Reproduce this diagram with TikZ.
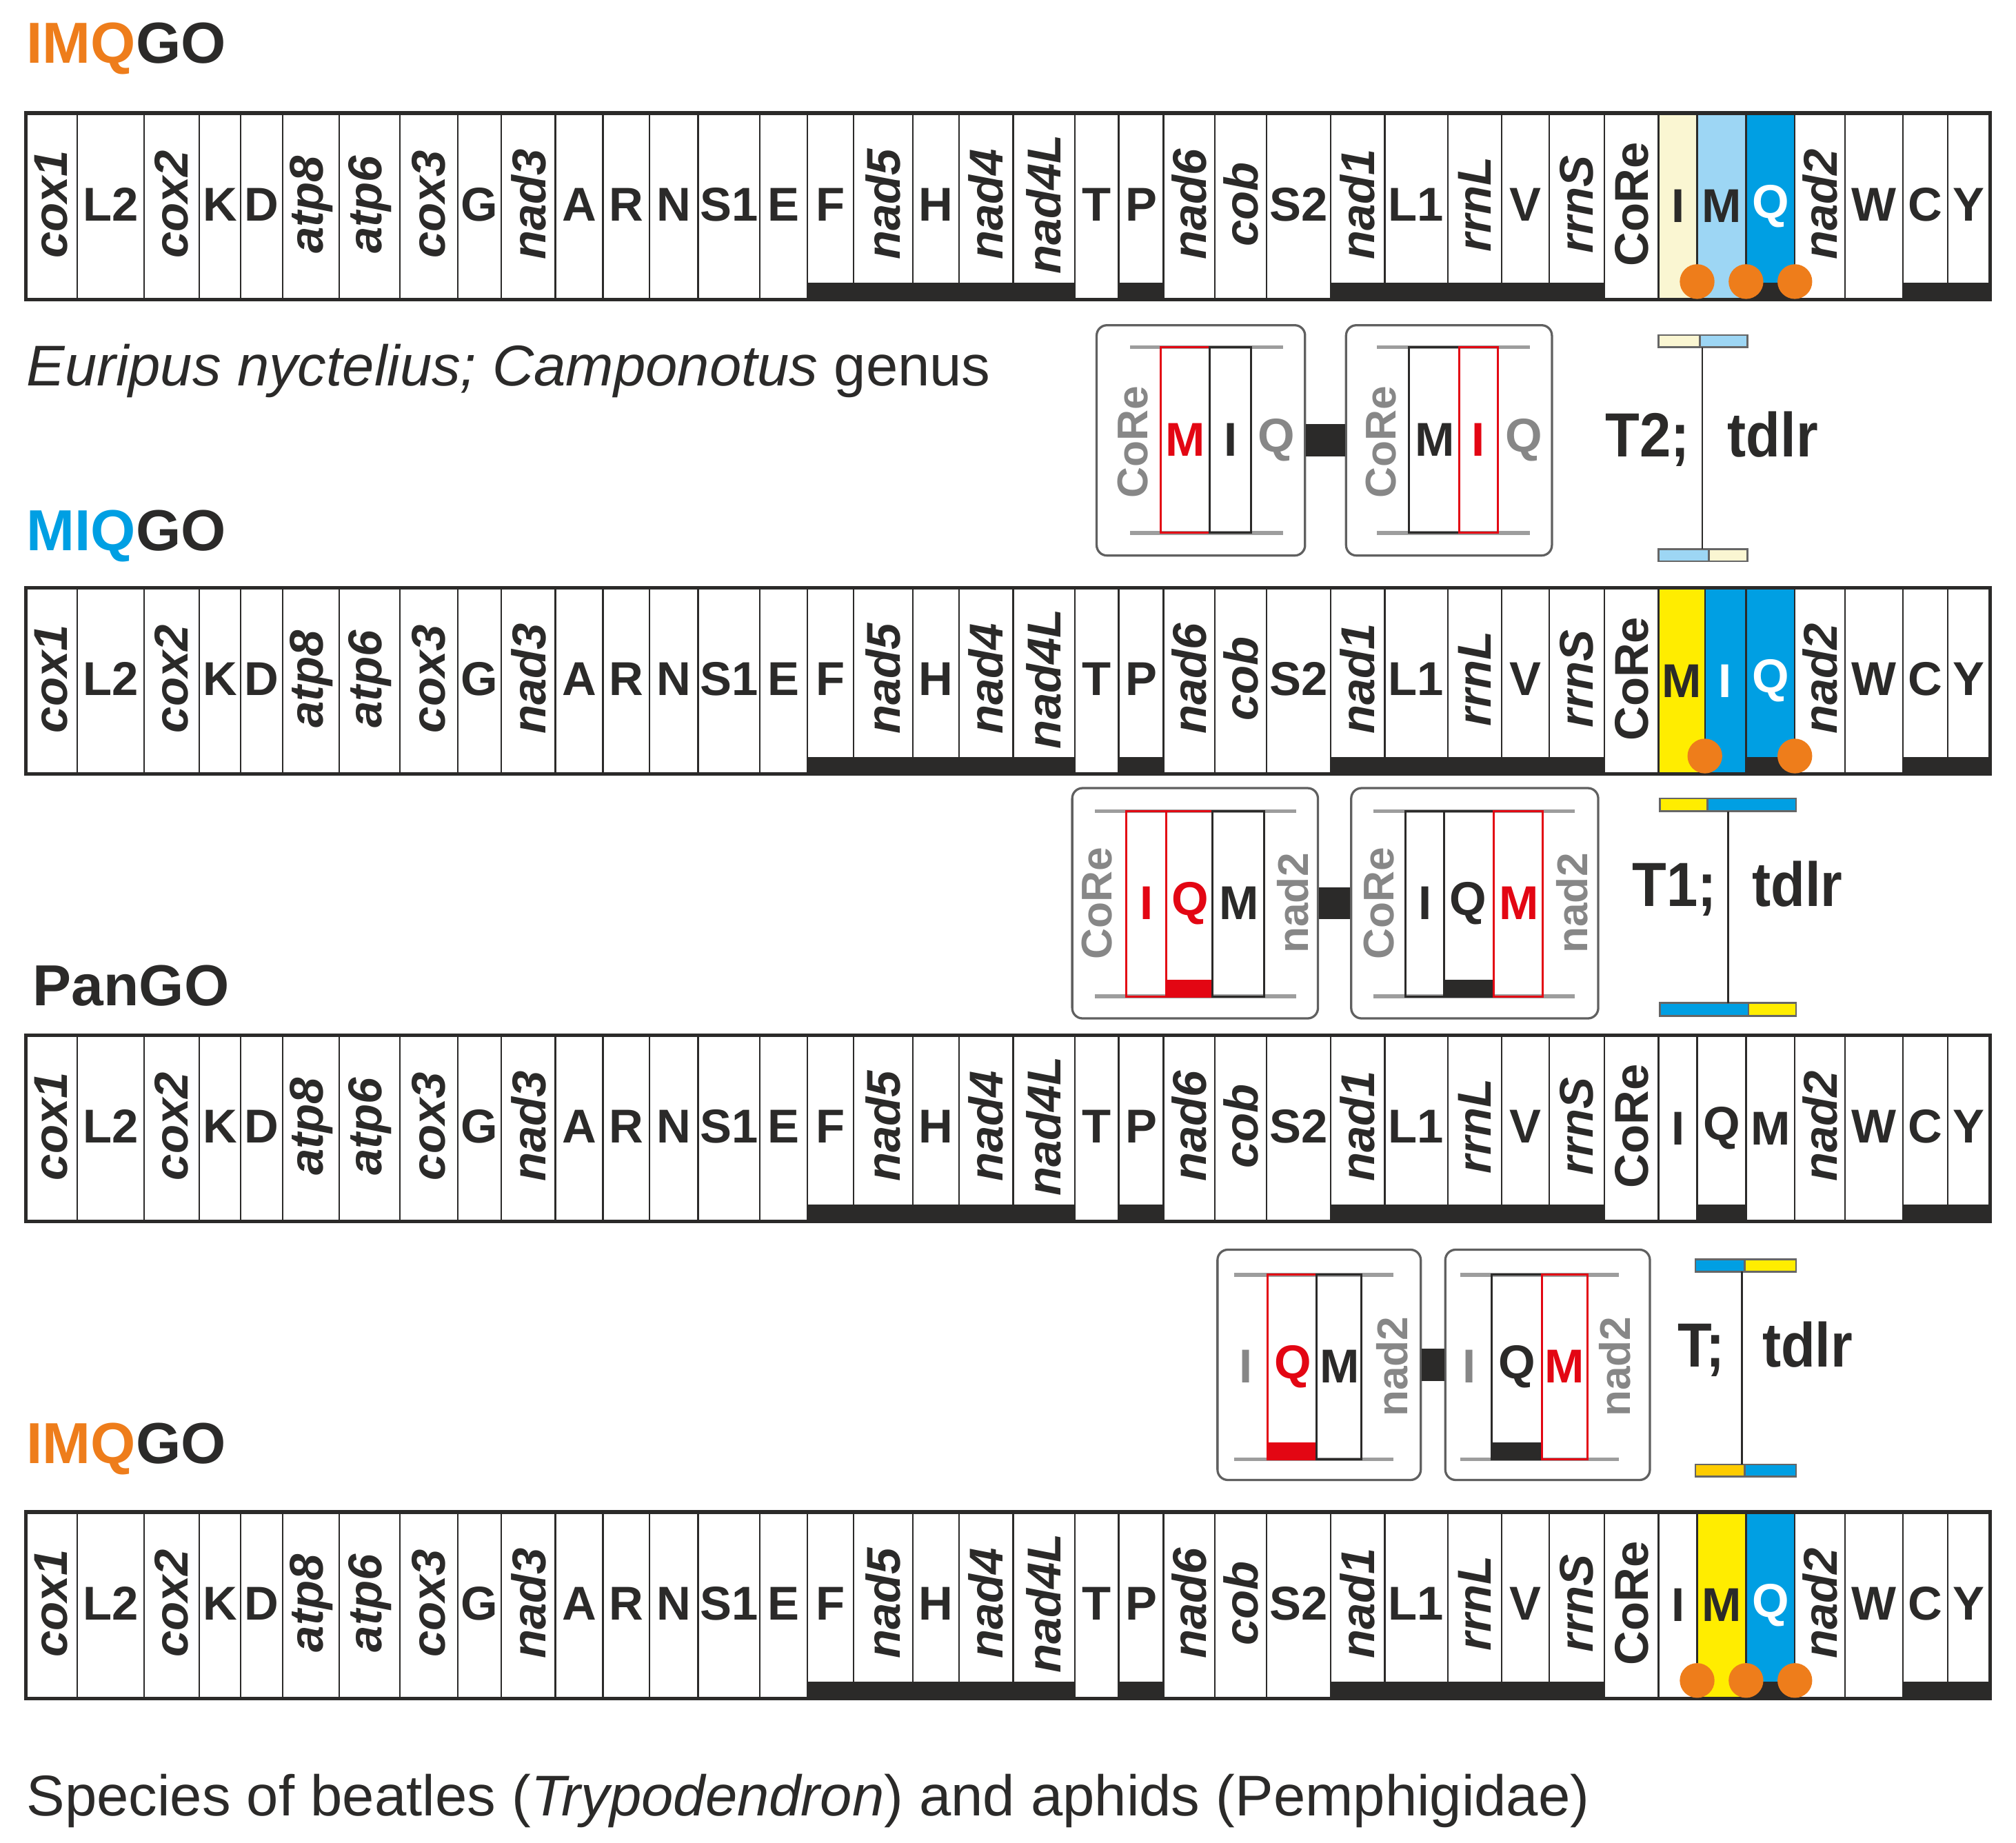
\documentclass[tikz,border=0pt]{standalone}
\usepackage{fontspec}
\setmainfont{Liberation Sans}
\newfontfamily\narrowsans{Liberation Sans}[FakeStretch=0.9]
\usetikzlibrary{positioning}

\definecolor{ink}{HTML}{2B2A29}
\definecolor{imqorange}{HTML}{EE7D1B}
\definecolor{miqblue}{HTML}{009FE3}
\definecolor{lightblue}{HTML}{9DD6F4}
\definecolor{cream}{HTML}{FAF6D2}
\definecolor{ylw}{HTML}{FFED00}
\definecolor{gold}{HTML}{FFCC00}
\definecolor{genered}{HTML}{E30613}
\definecolor{labelgray}{HTML}{878787}
\definecolor{linegray}{HTML}{9D9D9D}

\tikzset{
  cellline/.style={draw=ink, line width=0.35pt},
  rowframe/.style={draw=ink, line width=0.8pt},
  trna/.style={inner sep=0pt, text=ink, font=\fontsize{10.5}{12}\selectfont\bfseries},
  gene/.style={trna, rotate=90, font=\fontsize{10.5}{12}\selectfont\bfseries\itshape},
  core/.style={trna, rotate=90},
  orangedot/.style={circle, fill=imqorange, inner sep=0pt, minimum size=0.27cm},
  heading/.style={anchor=base west, inner sep=0pt, text=ink, font=\fontsize{12.8}{15}\selectfont\bfseries},
  species/.style={anchor=base west, inner sep=0pt, text=ink, font=\fontsize{12.7}{15}\selectfont},
  insetbox/.style={draw=gray!75!black, fill=white, rounded corners=0.08cm, line width=0.5pt, minimum height=1.79cm},
  link/.style={draw=ink, line width=0.25cm},
  strandline/.style={draw=linegray, line width=0.85pt},
  redrect/.style={draw=genered, line width=0.45pt},
  blackrect/.style={draw=ink, line width=0.45pt},
  small/.style={inner sep=0pt, font=\fontsize{10.5}{12}\selectfont\bfseries},
  graytag/.style={inner sep=0pt, rotate=90, text=labelgray, font=\fontsize{9.5}{11}\selectfont\bfseries},
  tlabel/.style={inner sep=0pt, text=ink, font=\narrowsans\fontsize{13.8}{16}\selectfont\bfseries},
  tbar/.style={draw=gray!80!black, line width=0.4pt},
  tstem/.style={draw=ink, line width=0.45pt},
}

% common cells of a gene order row: #1 top, #2 name
\newcommand{\generow}[2]{%
  \foreach \xa/\xb/\lab/\kind/\st in {20/60/cox1/gene/0, 60/112/L2/trna/0, 112/155/cox2/gene/0,
      155/187/K/trna/0, 187/220/D/trna/0, 220/264/atp8/gene/0, 264/311/atp6/gene/0,
      311/356/cox3/gene/0, 356/390/G/trna/0, 390/432/nad3/gene/0, 432/469/A/trna/0,
      469/505/R/trna/0, 505/543/N/trna/0, 543/591/S1/trna/0, 591/628/E/trna/0,
      628/664/F/trna/1, 664/710/nad5/gene/1, 710/746/H/trna/1, 746/788/nad4/gene/1,
      788/836/nad4L/gene/1, 836/870/T/trna/0, 870/905/P/trna/1, 905/945/nad6/gene/0,
      945/985/cob/gene/0, 985/1035/S2/trna/0, 1035/1077/nad1/gene/1, 1077/1126/L1/trna/1,
      1126/1168/rrnL/gene/1, 1168/1205/V/trna/1, 1205/1248/rrnS/gene/1, 1248/1290/CoRe/core/0,
      1396/1435/nad2/gene/0, 1435/1480/W/trna/0, 1480/1515/C/trna/1, 1515/1548/Y/trna/1}
  {
    \ifnum\st=1 \fill[ink] (\xa,#1+132) rectangle (\xb,#1+145); \fi
    \draw[cellline] (\xa,#1) -- (\xa,#1+145);
    \node[\kind] (#2-\lab) at ({(\xa+\xb)/2},#1+71) {\lab};
  }
  \draw[rowframe] (20,#1) rectangle (1548,#1+145);
}

\begin{document}
\begin{tikzpicture}[x=0.01cm, y=-0.01cm]
  \useasboundingbox (0,0) rectangle (1568,1433);

  % IMQGO, Euripus
  \node[heading] (head1) at (20,49) {\textcolor{imqorange}{IMQ}GO};
  \foreach \xa/\xb/\lab/\col/\tcol/\st in {1290/1320/I/cream/ink/0, 1320/1358/M/lightblue/ink/0, 1358/1396/Q/miqblue/white/1}
  {
    \fill[\col] (\xa,88) rectangle (\xb,233);
    \ifnum\st=1 \fill[ink] (\xa,220) rectangle (\xb,233); \fi
    \draw[cellline] (\xa,88) -- (\xa,233);
    \node[trna, text=\tcol] (r1-\lab) at ({(\xa+\xb)/2},160.5) {\lab};
  }
  \generow{88}{r1}
  \foreach \x in {1320,1358,1396} \node[orangedot] (r1-dot\x) at (\x,219) {};
  \node[species] (spec1) at (20,300) {\textit{Euripus nyctelius; Camponotus} genus};

  % T2 insets
  \node[insetbox, minimum width=1.62cm] (a1) at (934,342.5) {};
  \node[insetbox, minimum width=1.6cm] (a2) at (1127,342.5) {};
  \draw[link] (a1) -- (a2);
  \draw[strandline] (879,270) -- (998,270) (879,414.5) -- (998,414.5);
  \draw[redrect] (903,270) rectangle (941,414.5);
  \draw[blackrect] (941,270) rectangle (973,414.5);
  \node[graytag] (a1-core) at (881,344) {CoRe};
  \node[small, text=genered] (a1-M) at (922,342) {M};
  \node[small, text=ink] (a1-I) at (957,342) {I};
  \node[small, text=labelgray] (a1-Q) at (993,342) {Q};
  \draw[strandline] (1071,270) -- (1190,270) (1071,414.5) -- (1190,414.5);
  \draw[blackrect] (1096,270) rectangle (1135,414.5);
  \draw[redrect] (1135,270) rectangle (1165,414.5);
  \node[graytag] (a2-core) at (1074,344) {CoRe};
  \node[small, text=ink] (a2-M) at (1116,342) {M};
  \node[small, text=genered] (a2-I) at (1150,342) {I};
  \node[small, text=labelgray] (a2-Q) at (1185.5,342) {Q};

  \draw[tbar, fill=cream] (1290,260.6) rectangle (1322,270);
  \draw[tbar, fill=lightblue] (1322,260.6) rectangle (1359,270);
  \draw[tbar, fill=lightblue] (1290,427) rectangle (1329,436.5);
  \draw[tbar, fill=cream] (1329,427) rectangle (1359,436.5);
  \coordinate (t2top) at (1324,270);
  \coordinate (t2bot) at (1324,427);
  \draw[tstem] (t2top) -- (t2bot);
  \node[tlabel, anchor=base east] (t2name) at (1315,355) {T2;};
  \node[tlabel, anchor=base west] (t2mode) at (1343,355) {tdlr};

  % MIQGO
  \node[heading] (head2) at (20,428) {\textcolor{miqblue}{MIQ}GO};
  \foreach \xa/\xb/\lab/\col/\tcol/\st in {1290/1326/M/ylw/ink/0, 1326/1358/I/miqblue/white/0, 1358/1396/Q/miqblue/white/1}
  {
    \fill[\col] (\xa,457) rectangle (\xb,602);
    \ifnum\st=1 \fill[ink] (\xa,589) rectangle (\xb,602); \fi
    \draw[cellline] (\xa,457) -- (\xa,602);
    \node[trna, text=\tcol] (r2-\lab) at ({(\xa+\xb)/2},529.5) {\lab};
  }
  \generow{457}{r2}
  \foreach \x in {1326,1396} \node[orangedot] (r2-dot\x) at (\x,588) {};

  % T1 insets
  \node[insetbox, minimum width=1.91cm] (b1) at (929.5,702.5) {};
  \node[insetbox, minimum width=1.92cm] (b2) at (1147,702.5) {};
  \draw[link] (b1) -- (b2);
  \draw[strandline] (851.6,631) -- (1008,631) (851.6,775) -- (1008,775);
  \fill[genered] (907,762) rectangle (943,775);
  \draw[redrect] (876,631) rectangle (907,775);
  \draw[redrect] (907,631) rectangle (943,775);
  \draw[blackrect] (943,631) rectangle (983,775);
  \node[graytag] (b1-core) at (853.4,702.5) {CoRe};
  \node[small, text=genered] (b1-I) at (892,702.5) {I};
  \node[small, text=genered] (b1-Q) at (925.5,702.5) {Q};
  \node[small, text=ink] (b1-M) at (963.5,702.5) {M};
  \node[graytag] (b1-nad) at (1005.5,702.5) {nad2};
  \draw[strandline] (1068,631) -- (1225,631) (1068,775) -- (1225,775);
  \fill[ink] (1123,762) rectangle (1161.6,775);
  \draw[blackrect] (1093,631) rectangle (1123,775);
  \draw[blackrect] (1123,631) rectangle (1161.6,775);
  \draw[redrect] (1161.6,631) rectangle (1200,775);
  \node[graytag] (b2-core) at (1072.7,702.5) {CoRe};
  \node[small, text=ink] (b2-I) at (1108.5,702.5) {I};
  \node[small, text=ink] (b2-Q) at (1142,702.5) {Q};
  \node[small, text=genered] (b2-M) at (1181.5,702.5) {M};
  \node[graytag] (b2-nad) at (1223,702.5) {nad2};

  \draw[tbar, fill=ylw] (1291,621) rectangle (1328,631);
  \draw[tbar, fill=miqblue] (1328,621) rectangle (1397,631);
  \draw[tbar, fill=miqblue] (1291,780) rectangle (1360,790);
  \draw[tbar, fill=ylw] (1360,780) rectangle (1397,790);
  \coordinate (t1top) at (1344,631);
  \coordinate (t1bot) at (1344,780);
  \draw[tstem] (t1top) -- (t1bot);
  \node[tlabel, anchor=base east] (t1name) at (1336,705) {T1;};
  \node[tlabel, anchor=base west] (t1mode) at (1362,705) {tdlr};

  % PanGO
  \node[heading] (head3) at (25,782) {PanGO};
  \foreach \xa/\xb/\lab/\st in {1290/1320/I/0, 1320/1358/Q/1, 1358/1396/M/0}
  {
    \ifnum\st=1 \fill[ink] (\xa,937) rectangle (\xb,950); \fi
    \draw[cellline] (\xa,805) -- (\xa,950);
    \node[trna] (r3-\lab) at ({(\xa+\xb)/2},877.5) {\lab};
  }
  \generow{805}{r3}

  % T insets
  \node[insetbox, minimum width=1.58cm] (c1) at (1026,1061.5) {};
  \node[insetbox, minimum width=1.59cm] (c2) at (1203.7,1061.5) {};
  \draw[link] (c1) -- (c2);
  \draw[strandline] (960,991.5) -- (1084,991.5) (960,1135) -- (1084,1135);
  \fill[genered] (986,1122) rectangle (1024,1135);
  \draw[redrect] (986,991.5) rectangle (1024,1135);
  \draw[blackrect] (1024,991.5) rectangle (1059,1135);
  \node[small, text=labelgray] (c1-I) at (969,1063) {I};
  \node[small, text=genered] (c1-Q) at (1005.5,1063) {Q};
  \node[small, text=ink] (c1-M) at (1042,1063) {M};
  \node[graytag] (c1-nad) at (1082.6,1063) {nad2};
  \draw[strandline] (1135.6,991.5) -- (1259,991.5) (1135.6,1135) -- (1259,1135);
  \fill[ink] (1160,1122) rectangle (1199.4,1135);
  \draw[blackrect] (1160,991.5) rectangle (1199.4,1135);
  \draw[redrect] (1199.4,991.5) rectangle (1234.5,1135);
  \node[small, text=labelgray] (c2-I) at (1143,1063) {I};
  \node[small, text=ink] (c2-Q) at (1180,1063) {Q};
  \node[small, text=genered] (c2-M) at (1217,1063) {M};
  \node[graytag] (c2-nad) at (1256,1063) {nad2};

  \draw[tbar, fill=miqblue] (1318.6,979.6) rectangle (1357,989);
  \draw[tbar, fill=ylw] (1357,979.6) rectangle (1397,989);
  \draw[tbar, fill=gold] (1318.6,1139) rectangle (1357,1148.5);
  \draw[tbar, fill=miqblue] (1357,1139) rectangle (1397,1148.5);
  \coordinate (ttop) at (1355,989);
  \coordinate (tbot) at (1355,1139);
  \draw[tstem] (ttop) -- (tbot);
  \node[tlabel, anchor=base east] (tname) at (1342,1063) {T;};
  \node[tlabel, anchor=base west] (tmode) at (1370,1063) {tdlr};

  % IMQGO, beetles and aphids
  \node[heading] (head4) at (20,1138) {\textcolor{imqorange}{IMQ}GO};
  \foreach \xa/\xb/\lab/\col/\tcol/\st in {1290/1320/I/white/ink/0, 1320/1358/M/ylw/ink/0, 1358/1396/Q/miqblue/white/1}
  {
    \fill[\col] (\xa,1176) rectangle (\xb,1321);
    \ifnum\st=1 \fill[ink] (\xa,1308) rectangle (\xb,1321); \fi
    \draw[cellline] (\xa,1176) -- (\xa,1321);
    \node[trna, text=\tcol] (r4-\lab) at ({(\xa+\xb)/2},1248.5) {\lab};
  }
  \generow{1176}{r4}
  \foreach \x in {1320,1358,1396} \node[orangedot] (r4-dot\x) at (\x,1307) {};
  \node[species] (spec4) at (20,1412) {Species of beatles (\textit{Trypodendron}) and aphids (Pemphigidae)};
\end{tikzpicture}
\end{document}
